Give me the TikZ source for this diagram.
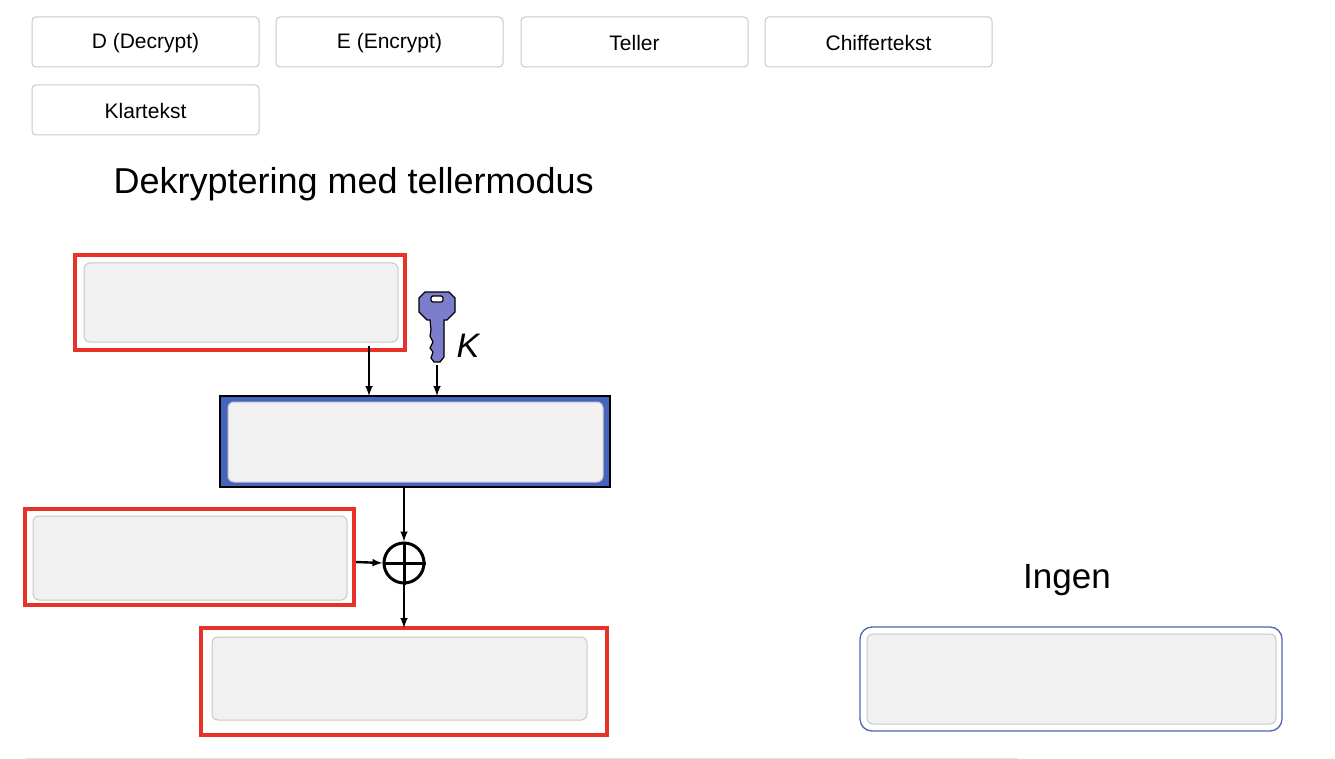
\documentclass[tikz,border=0pt]{standalone}
\usepackage{fontspec}
\setmainfont{Liberation Sans}
\definecolor{btnb}{RGB}{200,200,200}
\definecolor{slotf}{RGB}{241,241,241}
\definecolor{redc}{RGB}{230,50,40}
\definecolor{bluec}{RGB}{70,100,190}
\definecolor{keyc}{RGB}{125,125,205}
\definecolor{ingb}{RGB}{80,100,180}
\definecolor{linec}{RGB}{225,225,225}
\begin{document}
\begin{tikzpicture}[x=1pt,y=-1pt,
 btn/.style={draw=btnb,fill=white,rounded corners=4pt,line width=1pt},
 slot/.style={draw=btnb,fill=slotf,rounded corners=6pt,line width=1pt},
 redbox/.style={draw=redc,line width=4pt},
 arr/.style={-latex,line width=2.4pt},
 btxt/.style={font=\fontsize{21}{24}\selectfont}]
\useasboundingbox (0,0) rectangle (1335,759);
% buttons
\foreach \x/\t [count=\i] in {32/D (Decrypt),276/E (Encrypt),521/Teller,765/Chiffertekst}{
  \draw[btn] (\x,17) rectangle ++(227,50);
  \node[btxt] (b\i) at (\x+113.5,43) {\t};}
\draw[btn] (32,85) rectangle (259,135);
\node[btxt] (b5) at (145.5,111) {Klartekst};
\node[font=\fontsize{36}{40}\selectfont,anchor=west] (title) at (110,184) {Dekryptering med tellermodus};
% boxes
\draw[redbox] (75,255) rectangle (405,350);
\draw[slot] (84,263) rectangle (398,342);
\coordinate (r1) at (369,346);
\draw[draw=black,line width=2pt,fill=bluec] (220,396) rectangle (610,487);
\draw[slot] (228,402) rectangle (603,482);
\coordinate (bt1) at (369,396); \coordinate (bt2) at (437,396); \coordinate (bb) at (404,487);
\draw[redbox] (25,509) rectangle (354,605);
\draw[slot] (33,516) rectangle (347,600);
\coordinate (r2) at (356,562);
\draw[redbox] (201,628) rectangle (607,735);
\draw[slot] (212,637) rectangle (587,720);
\coordinate (r3) at (404,628);
% xor
\node[circle,draw,line width=3pt,minimum size=40pt,inner sep=0] (x) at (404,563) {};
\draw[line width=3pt] (x.north)--(x.south) (x.west)--(x.east);
% key
\draw[fill=keyc,line width=1.2pt]
 (425,292) -- (449,292) -- (455,298) -- (455,312) -- (447,320) -- (444,320) -- (444,357) -- (440,362) -- (434,362) -- (431,358) -- (433,352) -- (430,348) -- (433,342) -- (430,336) -- (431,330) -- (430,320) -- (427,320) -- (419,312) -- (419,298) -- cycle;
\draw[fill=white,rounded corners=2pt,line width=1.2pt] (431,296) rectangle (443,302);
\coordinate (k) at (437,365);
\node[font=\itshape\fontsize{34}{36}\selectfont] (K) at (468,346) {K};
% arrows
\draw[arr] (r1) -- (bt1);
\draw[arr] (k) -- (bt2);
\draw[arr] (bb) -- (x.north);
\draw[arr] (r2) -- (x.west);
\draw[arr] (x.south) -- (r3);
% Ingen
\node[font=\fontsize{35}{38}\selectfont] (ingen) at (1067,580) {Ingen};
\draw[draw=ingb,fill=white,rounded corners=12pt,line width=1.3pt] (860,627) rectangle (1282,731);
\draw[slot] (867,634) rectangle (1276,724);
\draw[linec,line width=1pt] (25,758) -- (1018,758);
\end{tikzpicture}
\end{document}
